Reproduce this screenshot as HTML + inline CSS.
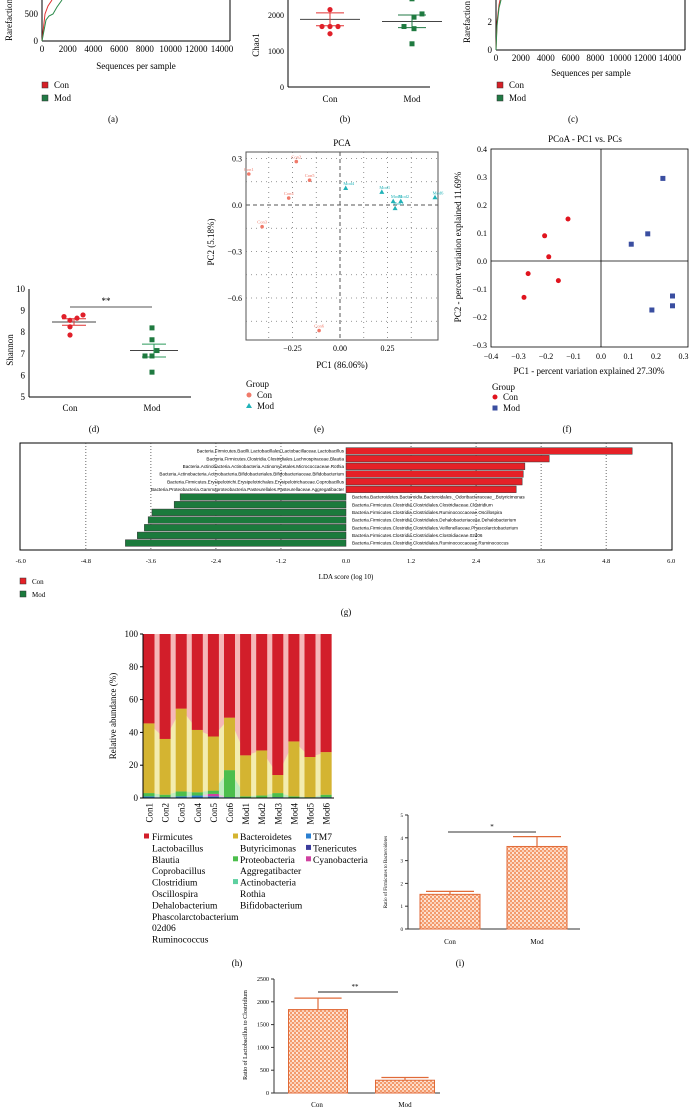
<!DOCTYPE html>
<html><head><meta charset="utf-8"><style>
html,body{margin:0;padding:0;background:#fff;}
svg{display:block;font-family:"Liberation Serif",serif;}
</style></head><body>
<svg id="fig" width="689" height="1118" viewBox="0 0 689 1118" xmlns="http://www.w3.org/2000/svg">
<defs>
<pattern id="pat" width="4" height="4" patternUnits="userSpaceOnUse"><rect width="4" height="4" fill="#f39a6c"/><rect x="0" y="0" width="2" height="2" fill="#fde3d4"/><rect x="2" y="2" width="2" height="2" fill="#fbd0b8"/></pattern>
</defs>
<g font-size="9">
<text x="12" y="20" transform="rotate(-90 12 20)" text-anchor="middle">Rarefaction</text>
<line x1="42" y1="0" x2="42" y2="41" stroke="#000"/>
<line x1="42" y1="41" x2="230" y2="41" stroke="#000"/>
<line x1="230" y1="0" x2="230" y2="41" stroke="#000"/>
<text x="136" y="69" text-anchor="middle">Sequences per sample</text>
<rect x="42" y="82" width="6" height="6" fill="#d62027" stroke="#333" stroke-width=".5"/>
<text x="54" y="88">Con</text>
<rect x="42" y="95" width="6" height="6" fill="#217a45" stroke="#333" stroke-width=".5"/>
<text x="54" y="101">Mod</text>
<text x="113" y="122" text-anchor="middle">(a)</text>
</g>
<g id="ga"></g>
<g font-size="9">
<text x="259" y="45" transform="rotate(-90 259 45)" text-anchor="middle">Chao1</text>
<line x1="288" y1="0" x2="288" y2="87" stroke="#000"/>
<line x1="288" y1="87" x2="430" y2="87" stroke="#000"/>
<text x="345" y="122" text-anchor="middle">(b)</text>
</g>
<g id="gb"></g>
<g font-size="9">
<text x="470" y="22" transform="rotate(-90 470 22)" text-anchor="middle">Rarefaction</text>
<line x1="496" y1="0" x2="496" y2="50" stroke="#000"/>
<line x1="496" y1="50" x2="685" y2="50" stroke="#000"/>
<line x1="685" y1="0" x2="685" y2="50" stroke="#000"/>
<text x="591" y="76" text-anchor="middle">Sequences per sample</text>
<rect x="497" y="82" width="6" height="6" fill="#d62027" stroke="#333" stroke-width=".5"/>
<text x="509" y="88">Con</text>
<rect x="497" y="95" width="6" height="6" fill="#217a45" stroke="#333" stroke-width=".5"/>
<text x="509" y="101">Mod</text>
<text x="573" y="122" text-anchor="middle">(c)</text>
</g>
<g id="gc"></g>
<g font-size="9">
<text x="13" y="350" transform="rotate(-90 13 350)" text-anchor="middle">Shannon</text>
<line x1="29" y1="289" x2="29" y2="397" stroke="#000"/>
<line x1="29" y1="397" x2="191" y2="397" stroke="#000"/>
<text x="94" y="432" text-anchor="middle">(d)</text>
</g>
<g id="gd"></g>
<g font-size="9">
<text x="342" y="146" text-anchor="middle">PCA</text>
<rect x="246" y="152" width="192" height="188" fill="none" stroke="#555"/>
<text x="342" y="368" text-anchor="middle">PC1 (86.06%)</text>
<text x="214" y="242" transform="rotate(-90 214 242)" text-anchor="middle">PC2 (5.18%)</text>
<text x="246" y="387">Group</text>
<circle cx="249" cy="395" r="2.5" fill="#f07a6a"/>
<text x="257" y="398">Con</text>
<polygon points="249,403 252,408 246,408" fill="#20b2b8"/>
<text x="257" y="409">Mod</text>
<text x="319" y="432" text-anchor="middle">(e)</text>
</g>
<g id="ge"></g>
<g font-size="9">
<text x="585" y="142" text-anchor="middle">PCoA - PC1 vs. PCs</text>
<rect x="491" y="149" width="197" height="198" fill="none" stroke="#000" stroke-width=".8"/>
<text x="589" y="374" text-anchor="middle">PC1 - percent variation explained 27.30%</text>
<text x="461" y="247" transform="rotate(-90 461 247)" text-anchor="middle">PC2 - percent variation explained 11.69%</text>
<text x="492" y="390">Group</text>
<circle cx="495" cy="397" r="2.5" fill="#e0141e"/>
<text x="503" y="400">Con</text>
<rect x="492.5" y="405.5" width="5" height="5" fill="#3a4ea0"/>
<text x="503" y="411">Mod</text>
<text x="567" y="432" text-anchor="middle">(f)</text>
</g>
<g id="gf"></g>
<g font-size="7">
<rect x="20" y="443" width="652" height="107" fill="none" stroke="#000"/>
<text x="346" y="579" text-anchor="middle">LDA score (log 10)</text>
<rect x="20" y="578" width="6" height="6" fill="#e52127" stroke="#333" stroke-width=".5"/>
<text x="32" y="584">Con</text>
<rect x="20" y="591" width="6" height="6" fill="#1b7a3c" stroke="#333" stroke-width=".5"/>
<text x="32" y="597">Mod</text>
<text x="346" y="615" text-anchor="middle" font-size="9">(g)</text>
</g>
<g id="gg"></g>
<g font-size="9">
<text x="116" y="716" transform="rotate(-90 116 716)" text-anchor="middle">Relative abundance (%)</text>
<text x="237" y="966" text-anchor="middle">(h)</text>
</g>
<g id="gh"></g>
<g id="ghl" font-size="9.5"></g>
<g font-size="5">
<text x="387" y="872" transform="rotate(-90 387 872)" text-anchor="middle">Ratio of Firmicutes to Bacteroidetes</text>
<line x1="408" y1="815" x2="408" y2="929" stroke="#333"/>
<line x1="408" y1="929" x2="580" y2="929" stroke="#333"/>
<text x="450" y="944" text-anchor="middle" font-size="7">Con</text>
<text x="537" y="944" text-anchor="middle" font-size="7">Mod</text>
<text x="460" y="966" text-anchor="middle" font-size="9">(i)</text>
</g>
<g id="gi"></g>
<g font-size="6">
<text x="247" y="1035" transform="rotate(-90 247 1035)" text-anchor="middle">Ratio of Lactobacillus to Clostridium</text>
<line x1="274" y1="979" x2="274" y2="1093" stroke="#333"/>
<line x1="274" y1="1093" x2="440" y2="1093" stroke="#333"/>
<text x="317" y="1107" text-anchor="middle" font-size="7">Con</text>
<text x="405" y="1107" text-anchor="middle" font-size="7">Mod</text>
</g>
<g id="gj"></g>
</svg>
<script>
var rareTicks = [0,2000,4000,6000,8000,10000,12000,14000];
var chaoTicks = [0,1000,2000];
var chaoCon = [2150,1680,1680,1680,1480];
var chaoMod = [2450,2030,1940,1680,1620,1200];
var chaoConStats = [1880,2060,1700];
var chaoModStats = [1820,2000,1650];
var shannonTicks = [5,6,7,8,9,10];
var shannonCon = [8.72,8.55,8.65,8.8,8.25,7.87];
var shannonMod = [8.2,7.65,7.15,6.9,6.9,6.15];
var shannonConStats = [8.47,8.62,8.32];
var shannonModStats = [7.15,7.45,6.85];
var pcaXTicks = [-0.25,0,0.25];
var pcaYTicks = [0.3,0,-0.3,-0.6];
var pcaConNames = ["Con1","Con2","Con3","Con4","Con5","Con6"];
var pcaConX = [-0.48,-0.23,-0.41,-0.27,-0.16,-0.11];
var pcaConY = [0.2,0.28,-0.14,0.045,0.16,-0.81];
var pcaModNames = ["Mod1","Mod2","Mod3","Mod4","Mod5","Mod6"];
var pcaModX = [0.22,0.32,0.29,0.03,0.28,0.5];
var pcaModY = [0.085,0.025,-0.02,0.11,0.025,0.05];
var pcoaXTicks = [-0.4,-0.3,-0.2,-0.1,0,0.1,0.2,0.3];
var pcoaYTicks = [0.4,0.3,0.2,0.1,0,-0.1,-0.2,-0.3];
var pcoaConX = [-0.28,-0.265,-0.205,-0.19,-0.155,-0.12];
var pcoaConY = [-0.13,-0.045,0.09,0.015,-0.07,0.15];
var pcoaModX = [0.11,0.17,0.225,0.185,0.26,0.26];
var pcoaModY = [0.06,0.097,0.295,-0.175,-0.125,-0.16];
var ldaTicks = [-6,-4.8,-3.6,-2.4,-1.2,0,1.2,2.4,3.6,4.8,6];
var ldaConNames = ["Bacteria.Firmicutes.Bacilli.Lactobacillales.Lactobacillaceae.Lactobacillus","Bacteria.Firmicutes.Clostridia.Clostridiales.Lachnospiraceae.Blautia","Bacteria.Actinobacteria.Actinobacteria.Actinomycetales.Micrococcaceae.Rothia","Bacteria.Actinobacteria.Actinobacteria.Bifidobacteriales.Bifidobacteriaceae.Bifidobacterium","Bacteria.Firmicutes.Erysipelotrichi.Erysipelotrichales.Erysipelotrichaceae.Coprobacillus","Bacteria.Proteobacteria.Gammaproteobacteria.Pasteurellales.Pasteurellaceae.Aggregatibacter"];
var ldaConVals = [5.28,3.75,3.3,3.27,3.25,3.14];
var ldaModNames = ["Bacteria.Bacteroidetes.Bacteroidia.Bacteroidales._Odoribacteraceae_.Butyricimonas","Bacteria.Firmicutes.Clostridia.Clostridiales.Clostridiaceae.Clostridium","Bacteria.Firmicutes.Clostridia.Clostridiales.Ruminococcaceae.Oscillospira","Bacteria.Firmicutes.Clostridia.Clostridiales.Dehalobacteriaceae.Dehalobacterium","Bacteria.Firmicutes.Clostridia.Clostridiales.Veillonellaceae.Phascolarctobacterium","Bacteria.Firmicutes.Clostridia.Clostridiales.Clostridiaceae.02d06","Bacteria.Firmicutes.Clostridia.Clostridiales.Ruminococcaceae.Ruminococcus"];
var ldaModVals = [-3.06,-3.17,-3.58,-3.65,-3.72,-3.85,-4.07];
var samples = ["Con1","Con2","Con3","Con4","Con5","Con6","Mod1","Mod2","Mod3","Mod4","Mod5","Mod6"];
var absTicks = [0,20,40,60,80,100];
var tm7 = [1,0.5,1,1.5,1,0.5,0.3,0.3,0.5,0.3,0.3,0.5];
var cyano = [0,0,0,0,1.5,0,0,0,0,0,0,0];
var proteo = [2,1.5,3,2,2,16.5,0.7,1.2,2.5,0.7,0.2,1.5];
var bacteroidetes = [42.5,34,50.5,38,33,32,25,27.5,11,33.5,24.5,26];
var ratioFBTicks = [0,1,2,3,4,5];
var ratioFB = [1.52,3.62];
var ratioFBErr = [0.13,0.43];
var ratioLCTicks = [0,500,1000,1500,2000,2500];
var ratioLC = [1830,280];
var ratioLCErr = [250,60];

var NS="http://www.w3.org/2000/svg";
function mk(tag,a,p){var e=document.createElementNS(NS,tag);for(var k in a)e.setAttribute(k,a[k]);p.appendChild(e);return e;}
function tx(s,a,p){var e=mk("text",a,p);e.textContent=s;return e;}
var e,i;

var ga=document.getElementById("ga");
function axA(v){return 42+v/14000*180;}
for(i=0;i<rareTicks.length;i++){
 e=tx(String(rareTicks[i]),{x:axA(rareTicks[i]),y:52,"font-size":9,"text-anchor":"middle"},ga);
 
 
}
e=tx("500",{x:38,y:17,"font-size":9,"text-anchor":"end"},ga);


e=tx("0",{x:38,y:44,"font-size":9,"text-anchor":"end"},ga);


e=mk("polyline",{points:"42,41 45,14 48,6 52,0",fill:"none",stroke:"#e03030","stroke-width":1},ga);


e=mk("polyline",{points:"42,41 46,20 49,16 53,14 57,7 62,0",fill:"none",stroke:"#2a8a4a","stroke-width":1},ga);



var gb=document.getElementById("gb");
function byB(v){return 87-v*0.036;}
for(i=0;i<chaoTicks.length;i++){
 e=tx(String(chaoTicks[i]),{x:284,y:byB(chaoTicks[i])+3,"font-size":8,"text-anchor":"end"},gb);
 
 
}
e=tx("Con",{x:330,y:102,"font-size":9,"text-anchor":"middle"},gb);


e=tx("Mod",{x:412,y:102,"font-size":9,"text-anchor":"middle"},gb);


var jitC=[0,-8,0,8,0], jitM=[0,10,2,-8,2,0];
function statLines(g,cx,st,yf,col,w,w2,nm){
 var l=mk("line",{x1:cx-w,x2:cx+w,y1:yf(st[0]),y2:yf(st[0]),stroke:"#444","stroke-width":1},g);
 
 
 l=mk("line",{x1:cx,x2:cx,y1:yf(st[1]),y2:yf(st[2]),stroke:col,"stroke-width":1},g);
 
 
 for(var k=1;k<3;k++){
  l=mk("line",{x1:cx-w2,x2:cx+w2,y1:yf(st[k]),y2:yf(st[k]),stroke:col,"stroke-width":1},g);
  
  
 }
}
statLines(gb,330,chaoConStats,byB,"#e03030",30,14,"b-con");
statLines(gb,412,chaoModStats,byB,"#217a45",30,14,"b-mod");
for(i=0;i<chaoCon.length;i++){
 e=mk("circle",{cx:330+jitC[i],cy:byB(chaoCon[i]),r:2.6,fill:"#e0202a"},gb);
 
 
}
for(i=0;i<chaoMod.length;i++){
 e=mk("rect",{x:412+jitM[i]-2.5,y:byB(chaoMod[i])-2.5,width:5,height:5,fill:"#1f7a40"},gb);
 
 
}

var gc=document.getElementById("gc");
function axC(v){return 496+v/14000*174;}
for(i=0;i<rareTicks.length;i++){
 e=tx(String(rareTicks[i]),{x:axC(rareTicks[i]),y:61,"font-size":9,"text-anchor":"middle"},gc);
 
 
}
e=tx("2",{x:492,y:25,"font-size":9,"text-anchor":"end"},gc);


e=tx("0",{x:492,y:53,"font-size":9,"text-anchor":"end"},gc);


e=mk("polyline",{points:"496,50 497,22 499,5 500,0",fill:"none",stroke:"#e03030"},gc);


e=mk("polyline",{points:"496,50 497,26 499,8 501,0",fill:"none",stroke:"#2a8a4a"},gc);



var gd=document.getElementById("gd");
function byD(v){return 397-(v-5)*21.6;}
for(i=0;i<shannonTicks.length;i++){
 e=tx(String(shannonTicks[i]),{x:25,y:byD(shannonTicks[i])+3,"font-size":9,"text-anchor":"end"},gd);
 
 
}
e=tx("Con",{x:70,y:411,"font-size":9,"text-anchor":"middle"},gd);


e=tx("Mod",{x:152,y:411,"font-size":9,"text-anchor":"middle"},gd);


e=mk("line",{x1:70,x2:152,y1:307,y2:307,stroke:"#555","stroke-width":1},gd);


e=tx("**",{x:106,y:304,"font-size":9,"text-anchor":"middle"},gd);


statLines(gd,74,shannonConStats,byD,"#e03030",22,12,"d-con");
statLines(gd,154,shannonModStats,byD,"#2a9a5a",24,12,"d-mod");
var jdC=[-6,0,7,13,0,0], jdM=[0,0,5,-7,0,0];
for(i=0;i<shannonCon.length;i++){
 e=mk("circle",{cx:70+jdC[i],cy:byD(shannonCon[i]),r:2.6,fill:"#e0202a"},gd);
 
 
}
for(i=0;i<shannonMod.length;i++){
 e=mk("rect",{x:152+jdM[i]-2.5,y:byD(shannonMod[i])-2.5,width:5,height:5,fill:"#1f7a40"},gd);
 
 
}

var ge=document.getElementById("ge");
function exE(v){return 340+v*190;}
function eyE(v){return 205-v*155;}
var gridXs=[-0.375,-0.25,-0.125,0.125,0.25,0.375];
for(i=0;i<gridXs.length;i++){
 e=mk("line",{x1:exE(gridXs[i]),x2:exE(gridXs[i]),y1:152,y2:340,stroke:"#777","stroke-dasharray":"1,4","stroke-width":0.8},ge);
 
 
}
var gridYs=[0.3,0.15,-0.15,-0.3,-0.45,-0.6,-0.75];
for(i=0;i<gridYs.length;i++){
 e=mk("line",{x1:246,x2:438,y1:eyE(gridYs[i]),y2:eyE(gridYs[i]),stroke:"#777","stroke-dasharray":"1,4","stroke-width":0.8},ge);
 
 
}
e=mk("line",{x1:exE(0),x2:exE(0),y1:152,y2:340,stroke:"#555","stroke-dasharray":"4,3"},ge);


e=mk("line",{x1:246,x2:438,y1:eyE(0),y2:eyE(0),stroke:"#555","stroke-dasharray":"4,3"},ge);


for(i=0;i<pcaXTicks.length;i++){
 e=tx(pcaXTicks[i].toFixed(2).replace("-","\u2212"),{x:exE(pcaXTicks[i]),y:351,"font-size":8,"text-anchor":"middle"},ge);
 
 
}
for(i=0;i<pcaYTicks.length;i++){
 e=tx(pcaYTicks[i].toFixed(1).replace("-","\u2212"),{x:242,y:eyE(pcaYTicks[i])+3,"font-size":8,"text-anchor":"end"},ge);
 
 
}
for(i=0;i<pcaConX.length;i++){
 var px=exE(pcaConX[i]),py=eyE(pcaConY[i]);
 e=mk("circle",{cx:px,cy:py,r:1.8,fill:"#f07a6a"},ge);
 
 
 e=tx(pcaConNames[i],{x:px,y:py-3,"font-size":4.5,fill:"#f07a6a","text-anchor":"middle"},ge);
 
 
}
for(i=0;i<pcaModX.length;i++){
 var qx=exE(pcaModX[i]),qy=eyE(pcaModY[i]);
 e=mk("polygon",{points:(qx)+","+(qy-2.5)+" "+(qx+2.5)+","+(qy+2)+" "+(qx-2.5)+","+(qy+2),fill:"#20b2b8"},ge);
 
 
 e=tx(pcaModNames[i],{x:qx+3,y:qy-3,"font-size":4.5,fill:"#20b2b8","text-anchor":"middle"},ge);
 
 
}

var gf=document.getElementById("gf");
function fxF(v){return 601+v*275;}
function fyF(v){return 261-v*280;}
e=mk("line",{x1:fxF(0),x2:fxF(0),y1:149,y2:347,stroke:"#000","stroke-width":0.8},gf);


e=mk("line",{x1:491,x2:688,y1:fyF(0),y2:fyF(0),stroke:"#000","stroke-width":0.8},gf);


for(i=0;i<pcoaXTicks.length;i++){
 e=tx(pcoaXTicks[i].toFixed(1).replace("-","\u2212"),{x:fxF(pcoaXTicks[i]),y:359,"font-size":8,"text-anchor":"middle"},gf);
 
 
}
for(i=0;i<pcoaYTicks.length;i++){
 e=tx(pcoaYTicks[i].toFixed(1).replace("-","\u2212"),{x:487,y:fyF(pcoaYTicks[i])+3,"font-size":8,"text-anchor":"end"},gf);
 
 
}
for(i=0;i<pcoaConX.length;i++){
 e=mk("circle",{cx:fxF(pcoaConX[i]),cy:fyF(pcoaConY[i]),r:2.5,fill:"#e0141e"},gf);
 
 
}
for(i=0;i<pcoaModX.length;i++){
 e=mk("rect",{x:fxF(pcoaModX[i])-2.5,y:fyF(pcoaModY[i])-2.5,width:5,height:5,fill:"#3a4ea0"},gf);
 
 
}

var gg=document.getElementById("gg");
function gx(v){return 346+v*54.2;}
for(i=0;i<ldaTicks.length;i++){
 var t=ldaTicks[i];
 if(t!==0 && Math.abs(t)!==6){
  e=mk("line",{x1:gx(t),x2:gx(t),y1:443,y2:550,stroke:"#444","stroke-dasharray":"1,2","stroke-width":0.8},gg);
  
  
 }
 e=tx(t.toFixed(1),{x:gx(t),y:563,"font-size":6.5,"text-anchor":"middle"},gg);
 
 
}
function rowY(k){return 451+k*7.67;}
for(i=0;i<ldaConVals.length;i++){
 e=mk("rect",{x:gx(0),y:rowY(i)-3.3,width:gx(ldaConVals[i])-gx(0),height:6.6,fill:"#e52127",stroke:"#333","stroke-width":0.5},gg);
 
 
 e=tx(ldaConNames[i],{x:gx(0)-2,y:rowY(i)+1.6,"font-size":4.6,"text-anchor":"end","font-family":"Liberation Sans, sans-serif"},gg);
 
 
}
for(i=0;i<ldaModVals.length;i++){
 var k=i+ldaConVals.length;
 e=mk("rect",{x:gx(ldaModVals[i]),y:rowY(k)-3.3,width:gx(0)-gx(ldaModVals[i]),height:6.6,fill:"#1b7a3c",stroke:"#333","stroke-width":0.5},gg);
 
 
 e=tx(ldaModNames[i],{x:gx(0)+6,y:rowY(k)+1.6,"font-size":4.6,"font-family":"Liberation Sans, sans-serif"},gg);
 
 
}

var gh=document.getElementById("gh");
function hy(v){return 798-v*1.64;}
function hx(k){return 149+k*16.1;}
var layers=[tm7,cyano,proteo,bacteroidetes];
var cols=["#2b7fd0","#d040a0","#4cbe4c","#d4b431","#d21e2a"];
var lcols=["#b8d8f0","#f0c0e0","#c0ecc0","#f3ecb0","#f5b8b8"];
var names=["tm7","cyanobacteria","proteobacteria","bacteroidetes","firmicutes"];
var cum=[];for(i=0;i<samples.length;i++)cum.push(0);
var bounds=[cum.slice()];
for(var L=0;L<layers.length;L++){for(i=0;i<samples.length;i++)cum[i]+=layers[L][i];bounds.push(cum.slice());}
var topRow=[];for(i=0;i<samples.length;i++)topRow.push(100);bounds.push(topRow);
for(L=bounds.length-2;L>=0;L--){
 var pts=[(hx(0)-5.5)+","+hy(bounds[L+1][0])];
 for(i=0;i<samples.length;i++)pts.push(hx(i)+","+hy(bounds[L+1][i]));
 pts.push((hx(samples.length-1)+5.5)+","+hy(bounds[L+1][samples.length-1]));
 pts.push((hx(samples.length-1)+5.5)+","+hy(0));
 pts.push((hx(0)-5.5)+","+hy(0));
 e=mk("polygon",{points:pts.join(" "),fill:lcols[L]},gh);
 
 
}
for(i=0;i<samples.length;i++){
 for(L=0;L<bounds.length-1;L++){
  var hh=hy(bounds[L][i])-hy(bounds[L+1][i]);
  if(hh<=0)continue;
  e=mk("rect",{x:hx(i)-5.5,y:hy(bounds[L+1][i]),width:11,height:hh,fill:cols[L]},gh);
  
  
 }
 e=tx(samples[i],{x:0,y:0,"font-size":9,"text-anchor":"end",transform:"translate("+(hx(i)+3.5)+",803) rotate(-90)"},gh);
 
 
}
e=mk("line",{x1:143,x2:143,y1:hy(100),y2:hy(0),stroke:"#000"},gh);


e=mk("line",{x1:143,x2:334,y1:hy(0),y2:hy(0),stroke:"#000"},gh);


for(i=0;i<absTicks.length;i++){
 e=mk("line",{x1:140,x2:143,y1:hy(absTicks[i]),y2:hy(absTicks[i]),stroke:"#000"},gh);
 
 
 e=tx(String(absTicks[i]),{x:138,y:hy(absTicks[i])+3,"font-size":9,"text-anchor":"end"},gh);
 
 
}
var ghl=document.getElementById("ghl");
var leg1=["Firmicutes","Lactobacillus","Blautia","Coprobacillus","Clostridium","Oscillospira","Dehalobacterium","Phascolarctobacterium","02d06","Ruminococcus"];
var leg2=["Bacteroidetes","Butyricimonas","Proteobacteria","Aggregatibacter","Actinobacteria","Rothia","Bifidobacterium"];
var leg2c=["#d4b431",null,"#4cbe4c",null,"#5ed0a0",null,null];
var leg3=["TM7","Tenericutes","Cyanobacteria"];
var leg3c=["#2b7fd0","#3c3c9c","#d040a0"];
for(i=0;i<leg1.length;i++){
 e=tx(leg1[i],{x:152,y:840+i*11.4},ghl);
 
 
}
e=mk("rect",{x:144,y:833.5,width:5,height:5,fill:"#d21e2a"},ghl);


for(i=0;i<leg2.length;i++){
 e=tx(leg2[i],{x:240,y:840+i*11.4},ghl);
 
 
 if(leg2c[i]){
  e=mk("rect",{x:233,y:833.5+i*11.4,width:5,height:5,fill:leg2c[i]},ghl);
  
  
 }
}
for(i=0;i<leg3.length;i++){
 e=tx(leg3[i],{x:313,y:840+i*11.4},ghl);
 
 
 e=mk("rect",{x:306,y:833.5+i*11.4,width:5,height:5,fill:leg3c[i]},ghl);
 
 
}

function barPanel(g,ticks,vals,errs,x0,y0,pxPer,centers,bw,tickX,fs,nm){
 for(var k=0;k<ticks.length;k++){
  var ty=y0-ticks[k]*pxPer;
  var l=mk("line",{x1:tickX+1,x2:tickX+4,y1:ty,y2:ty,stroke:"#333"},g);
  
  
  var t=tx(String(ticks[k]),{x:tickX-1,y:ty+2,"font-size":fs,"text-anchor":"end"},g);
  
  
 }
 for(k=0;k<vals.length;k++){
  var barTop=y0-vals[k]*pxPer, et=y0-(vals[k]+errs[k])*pxPer;
  var ln=mk("line",{x1:centers[k],x2:centers[k],y1:barTop,y2:et,stroke:"#e06a38","stroke-width":1.2},g);
  
  
  ln=mk("line",{x1:centers[k]-bw*0.4,x2:centers[k]+bw*0.4,y1:et,y2:et,stroke:"#e06a38","stroke-width":1.2},g);
  
  
  var r=mk("rect",{x:centers[k]-bw/2,y:barTop,width:bw,height:y0-barTop,fill:"url(#pat)",stroke:"#e06a38","stroke-width":1},g);
  
  
 }
}
var gi=document.getElementById("gi");
barPanel(gi,ratioFBTicks,ratioFB,ratioFBErr,408,929,22.8,[450,537],60,404,5,"i");
e=mk("line",{x1:448,x2:536,y1:832,y2:832,stroke:"#333"},gi);


e=tx("*",{x:492,y:829,"font-size":7,"text-anchor":"middle"},gi);


var gj=document.getElementById("gj");
barPanel(gj,ratioLCTicks,ratioLC,ratioLCErr,274,1093,0.0456,[318,405],59,270,6,"j");
e=mk("line",{x1:318,x2:398,y1:992,y2:992,stroke:"#222"},gj);


e=tx("**",{x:355,y:989,"font-size":7,"text-anchor":"middle"},gj);


</script>
</body></html>
